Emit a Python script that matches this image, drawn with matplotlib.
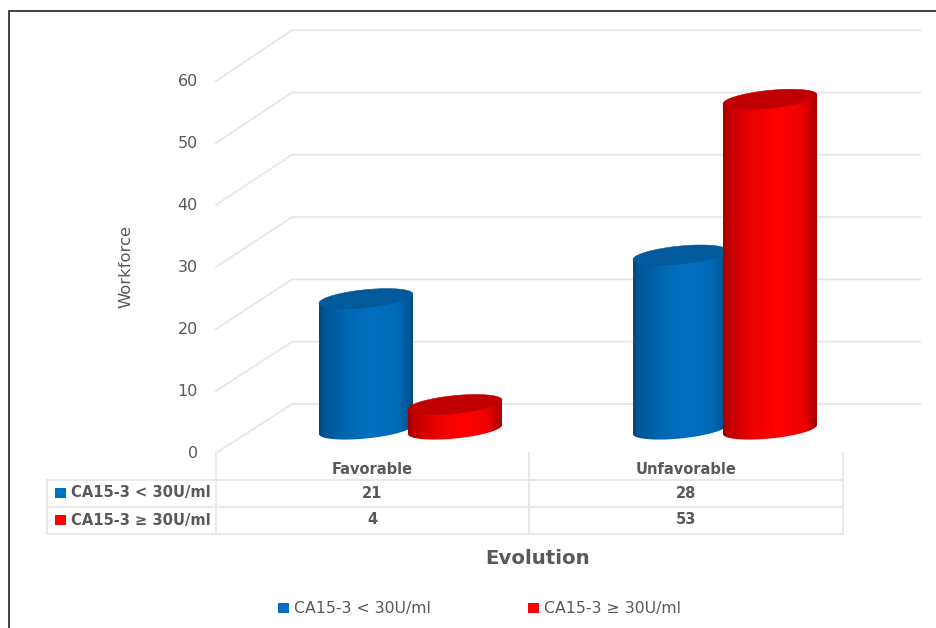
"""3D cylinder chart with data table, drawn on a pixel-sized canvas."""
import matplotlib
matplotlib.use("Agg")
import matplotlib.pyplot as plt
from matplotlib.patches import PathPatch, Rectangle
from matplotlib.path import Path
import numpy as np

matplotlib.rcParams.update({"font.family": "DejaVu Sans"})

# ── data ──────────────────────────────────────────────────────────────────────
categories = ["Favorable", "Unfavorable"]
series_names = ["CA15-3 < 30U/ml", "CA15-3 ≥ 30U/ml"]
low_values = [21, 28]
high_values = [4, 53]
y_ticks = [0, 10, 20, 30, 40, 50, 60]

# ── colours ───────────────────────────────────────────────────────────────────
C_TEXT = "#595959"
C_GRID = "#E6E6E6"
C_BLUE = ("#00467A", "#0070C0", "#005A9C")   # edge, centre, top
C_RED = ("#990000", "#FF0000", "#C00000")

# ── layout (pixels) ───────────────────────────────────────────────────────────
BACK_Y0, FRONT_Y0 = 404, 453
STEP = 6.23
BASE_Y = 429.5
RADIUS, MINOR, SHEAR = 47, 9, 4.5
GROUP_X = [366, 680]
OFFSET = [0, 90]

fig = plt.figure(figsize=(9.37, 6.28), dpi=100)
ax = fig.add_axes([0, 0, 1, 1])
ax.set_xlim(0, 937)
ax.set_ylim(628, 0)
ax.axis("off")


def ellipse(cx, cy, t):
    x = cx + RADIUS * np.cos(t)
    y = cy + MINOR * np.sin(t) - SHEAR * np.cos(t)
    return x, y


def hex_rgb(c):
    return np.array(matplotlib.colors.to_rgb(c))


def cylinder(cx, value, colors, z):
    top = BASE_Y - value * STEP
    edge, mid, cap = colors
    # body: top-left corner, lower arc of the base, back to top-right
    t = np.linspace(np.pi, 0, 60)
    bx, by = ellipse(cx, BASE_Y, t)
    tx, ty = ellipse(cx, top, np.array([0.0, np.pi]))
    verts = list(zip(bx, by)) + list(zip(tx, ty)) + [(bx[0], by[0])]
    clip = PathPatch(Path(verts), facecolor="none", edgecolor="none",
                     transform=ax.transData)
    ax.add_patch(clip)
    # shading across the cylinder
    u = np.linspace(0, 1, 200)
    k = np.interp(u, [0, 0.05, 0.3, 0.55, 0.85, 1.0],
                  [0.05, 0.35, 0.8, 1.0, 0.85, 0.15])
    grad = hex_rgb(edge)[None, :] * (1 - k[:, None]) + hex_rgb(mid)[None, :] * k[:, None]
    im = ax.imshow(grad[None, :, :], extent=(cx - RADIUS, cx + RADIUS, 628, 0),
                   aspect="auto", zorder=z, interpolation="bilinear")
    im.set_clip_path(clip)
    # top cap
    t = np.linspace(0, 2 * np.pi, 90)
    ex, ey = ellipse(cx, top, t)
    ax.fill(ex, ey, color=cap, zorder=z + 0.1, lw=0.4)


# ── walls ─────────────────────────────────────────────────────────────────────
for v in y_ticks:
    yb = BACK_Y0 - v * STEP
    yf = FRONT_Y0 - v * 6.2
    ax.plot([216, 292, 920], [yf, yb, yb], color=C_GRID, lw=1.3, zorder=1,
            solid_joinstyle="miter")
    ax.text(198, yf, str(v), ha="right", va="center", fontsize=11.5, color=C_TEXT)

# ── cylinders ─────────────────────────────────────────────────────────────────
for i, gx in enumerate(GROUP_X):
    cylinder(gx + OFFSET[0], low_values[i], C_BLUE, 3 + i)
    cylinder(gx + OFFSET[1] - (1 if i == 0 else 0), high_values[i], C_RED, 3.5 + i)

ax.set_xlim(0, 937)
ax.set_ylim(628, 0)

# ── data table ────────────────────────────────────────────────────────────────
for y in (480, 507, 534):
    ax.plot([47, 843], [y, y], color=C_GRID, lw=1.3, zorder=1)
ax.plot([47, 47], [480, 534], color=C_GRID, lw=1.3, zorder=1)
for x in (216, 529, 843):
    ax.plot([x, x], [453, 534], color=C_GRID, lw=1.3, zorder=1)

col_x = [372, 686]
for x, name, lo, hi in zip(col_x, categories, low_values, high_values):
    ax.text(x, 469.5, name, ha="center", va="center", fontsize=10.5,
            fontweight="bold", color=C_TEXT)
    ax.text(x, 493, str(lo), ha="center", va="center", fontsize=10.5,
            fontweight="bold", color=C_TEXT)
    ax.text(x, 520, str(hi), ha="center", va="center", fontsize=10.5,
            fontweight="bold", color=C_TEXT)

for y, name, col in zip((493, 520), series_names, ("#0070C0", "#FF0000")):
    ax.add_patch(Rectangle((55, y - 5), 11, 10, facecolor=col, edgecolor="none"))
    ax.text(71, y, name, ha="left", va="center", fontsize=10.6,
            fontweight="bold", color=C_TEXT)

# ── titles and legend ─────────────────────────────────────────────────────────
ax.text(126, 267, "Workforce", rotation=90, ha="center", va="center",
        fontsize=11.8, color=C_TEXT)
ax.text(538, 559, "Evolution", ha="center", va="center", fontsize=14.2,
        fontweight="bold", color=C_TEXT)

for x, name, col in zip((278, 528), series_names, ("#0070C0", "#FF0000")):
    ax.add_patch(Rectangle((x, 603), 11, 10, facecolor=col, edgecolor="none"))
    ax.text(x + 16, 608.5, name, ha="left", va="center", fontsize=11.3, color=C_TEXT)

# ── picture frame ─────────────────────────────────────────────────────────────
ax.plot([9.5, 9.5, 937], [628, 11, 11], color="#222222", lw=1.2, zorder=6,
        solid_joinstyle="miter")

fig.savefig("out.png", dpi=100, facecolor="white")
plt.close(fig)
